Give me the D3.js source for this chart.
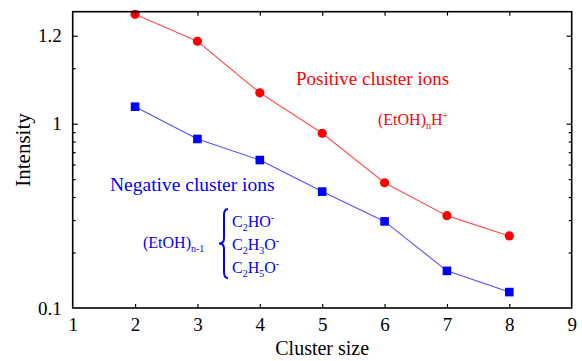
<!DOCTYPE html>
<html>
<head>
<meta charset="utf-8">
<script src="https://cdn.jsdelivr.net/npm/d3@7"></script>
<style>
html,body{margin:0;padding:0;background:#fff;}
text{font-family:"Liberation Serif","Times New Roman",serif;}
</style>
</head>
<body>
<svg id="chart" width="582" height="361"></svg>
<script>
// Data
const clusterSizes = [2, 3, 4, 5, 6, 7, 8];
const positiveIons = [3.92, 2.80, 1.47, 0.887, 0.478, 0.317, 0.246];
const negativeIons = [1.236, 0.826, 0.635, 0.428, 0.295, 0.159, 0.122];
const xTickValues = [1, 2, 3, 4, 5, 6, 7, 8, 9];
const yMajorTicks = [0.1, 1, 3];
const yMajorLabels = ["0.1", "1", "1.2"];
const yMinorTicks = [0.2, 0.3, 0.4, 0.5, 0.6, 0.7, 0.8, 0.9, 2];

(function () {
const svg = d3.select("#chart");
const pl = 72.7, pr = 571.7, pt = 11.7, pb = 308;

const x = d3.scaleLinear().domain([1, 9]).range([pl, pr]);
const y = d3.scaleLog().domain([0.1, 4.05]).range([pb, pt]);

const red = "#ff0000", blue = "#0000ff";

// lines
const line = d3.line().x((d, i) => x(clusterSizes[i])).y(d => y(d));
svg.append("path").datum(positiveIons).attr("d", line)
  .attr("fill", "none").attr("stroke", "#ff5050").attr("stroke-width", 1.1);
svg.append("path").datum(negativeIons).attr("d", line)
  .attr("fill", "none").attr("stroke", "#5050ff").attr("stroke-width", 1.1);

// markers
svg.selectAll("circle.pos").data(positiveIons).enter().append("circle")
  .attr("cx", (d, i) => x(clusterSizes[i])).attr("cy", d => y(d))
  .attr("r", 4.6).attr("fill", red);
svg.selectAll("rect.neg").data(negativeIons).enter().append("rect")
  .attr("x", (d, i) => x(clusterSizes[i]) - 4.3).attr("y", d => y(d) - 4.3)
  .attr("width", 8.6).attr("height", 8.6).attr("fill", blue);

// frame
svg.append("rect").attr("x", pl).attr("y", pt)
  .attr("width", pr - pl).attr("height", pb - pt)
  .attr("fill", "none").attr("stroke", "#000").attr("stroke-width", 1.6);

// x axis bottom
const xAxisB = d3.axisBottom(x).tickValues(xTickValues).tickSizeInner(-4).tickSizeOuter(0).tickPadding(10);
const gxb = svg.append("g").attr("transform", `translate(0,${pb})`).call(xAxisB);
gxb.select(".domain").remove();
gxb.selectAll("text").attr("font-size", 19).attr("fill", "#000")
  .style("font-family", "'Liberation Serif', serif");
gxb.selectAll(".tick line").attr("stroke", "#000").attr("stroke-width", 1.2);
gxb.selectAll(".tick").filter(d => d === 1 || d === 9).select("line").remove();

const xAxisT = d3.axisTop(x).tickValues(xTickValues.filter(v => v > 1 && v < 9)).tickSizeInner(-4).tickSizeOuter(0).tickFormat("");
const gxt = svg.append("g").attr("transform", `translate(0,${pt})`).call(xAxisT);
gxt.select(".domain").remove();
gxt.selectAll(".tick line").attr("stroke", "#000").attr("stroke-width", 1.2);

// y axis left
const yAxisL = d3.axisLeft(y).tickValues(yMajorTicks).tickSizeInner(-5).tickSizeOuter(0).tickPadding(11)
  .tickFormat((d, i) => yMajorLabels[i]);
const gyl = svg.append("g").attr("transform", `translate(${pl},0)`).call(yAxisL);
gyl.select(".domain").remove();
gyl.selectAll("text").attr("font-size", 19).attr("fill", "#000")
  .style("font-family", "'Liberation Serif', serif");
gyl.selectAll(".tick line").attr("stroke", "#000").attr("stroke-width", 1.2);
gyl.selectAll(".tick").filter(d => d === 0.1).select("line").remove();

const yMinorL = d3.axisLeft(y).tickValues(yMinorTicks).tickSizeInner(-3).tickSizeOuter(0).tickFormat("");
const gyml = svg.append("g").attr("transform", `translate(${pl},0)`).call(yMinorL);
gyml.select(".domain").remove();
gyml.selectAll(".tick line").attr("stroke", "#000").attr("stroke-width", 1.2);

// y axis right
const yAxisR = d3.axisRight(y).tickValues(yMajorTicks.filter(v => v > 0.1)).tickSizeInner(-5).tickSizeOuter(0).tickFormat("");
const gyr = svg.append("g").attr("transform", `translate(${pr},0)`).call(yAxisR);
gyr.select(".domain").remove();
gyr.selectAll(".tick line").attr("stroke", "#000").attr("stroke-width", 1.2);
const yMinorR = d3.axisRight(y).tickValues(yMinorTicks).tickSizeInner(-3).tickSizeOuter(0).tickFormat("");
const gymr = svg.append("g").attr("transform", `translate(${pr},0)`).call(yMinorR);
gymr.select(".domain").remove();
gymr.selectAll(".tick line").attr("stroke", "#000").attr("stroke-width", 1.2);

// axis titles
svg.append("text").attr("x", (pl + pr) / 2).attr("y", 355)
  .attr("text-anchor", "middle").attr("font-size", 20).text("Cluster size");
svg.append("text").attr("transform", "translate(30,150) rotate(-90)")
  .attr("text-anchor", "middle").attr("font-size", 21).text("Intensity");

// annotations
svg.append("text").attr("x", 296).attr("y", 85).attr("font-size", 19)
  .attr("fill", red).text("Positive cluster ions");
const pf = svg.append("text").attr("x", 378).attr("y", 125).attr("font-size", 16).attr("fill", red);
pf.append("tspan").text("(EtOH)");
pf.append("tspan").attr("font-size", 10).attr("dy", 4).text("n");
pf.append("tspan").attr("dy", -4).text("H");
pf.append("tspan").attr("font-size", 10).attr("dy", -6).text("+");

svg.append("text").attr("x", 110).attr("y", 191).attr("font-size", 19.5)
  .attr("fill", blue).text("Negative cluster ions");
const nf = svg.append("text").attr("x", 143).attr("y", 248).attr("font-size", 16).attr("fill", blue);
nf.append("tspan").text("(EtOH)");
nf.append("tspan").attr("font-size", 10).attr("dy", 4).text("n-1");

// brace
const bx = 224, by0 = 209, by1 = 278, bm = (by0 + by1) / 2;
svg.append("path")
  .attr("d", `M${bx + 4},${by0} Q${bx},${by0} ${bx},${by0 + 6} L${bx},${bm - 5} Q${bx},${bm} ${bx - 5},${bm} Q${bx},${bm} ${bx},${bm + 5} L${bx},${by1 - 6} Q${bx},${by1} ${bx + 4},${by1}`)
  .attr("fill", "none").attr("stroke", blue).attr("stroke-width", 2);

function formula(xp, yp, parts) {
  const t = svg.append("text").attr("x", xp).attr("y", yp).attr("font-size", 16).attr("fill", blue);
  parts.forEach(p => {
    const s = t.append("tspan").text(p[0]);
    if (p[1] === "sub") s.attr("font-size", 10).attr("dy", 4);
    else if (p[1] === "back") s.attr("dy", -4);
    else if (p[1] === "sup") s.attr("font-size", 10).attr("dy", -6);
  });
}
formula(232, 227, [["C"], ["2", "sub"], ["HO", "back"], ["-", "sup"]]);
formula(232, 250, [["C"], ["2", "sub"], ["H", "back"], ["3", "sub"], ["O", "back"], ["-", "sup"]]);
formula(232, 273, [["C"], ["2", "sub"], ["H", "back"], ["5", "sub"], ["O", "back"], ["-", "sup"]]);
})();
</script>
</body>
</html>
